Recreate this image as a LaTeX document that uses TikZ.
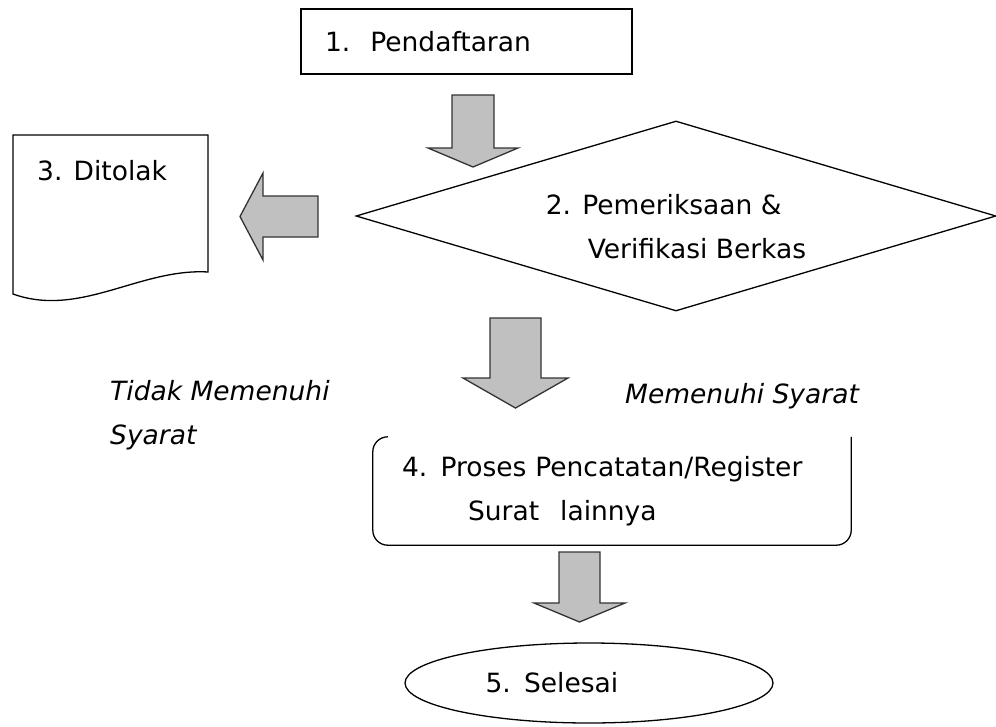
\documentclass[tikz,border=0pt]{standalone}
\usepackage{fontspec}
\setmainfont{DejaVu Sans}
\usepackage{tikz}
\usetikzlibrary{shapes.geometric}

\definecolor{ArrowGray}{HTML}{C0C0C0}
\newcommand{\diagramfont}{\fontsize{26.5pt}{44pt}\selectfont}

\tikzset{
  outline/.style={draw=black, line width=1.3pt},
  fatarrow/.style={draw=black!80, line width=1.3pt, fill=ArrowGray, line join=miter},
  caption/.style={inner sep=0pt, align=left},
}

\begin{document}
\begin{tikzpicture}[x=1pt, y=-1pt, font=\diagramfont]
  \useasboundingbox (0,0) rectangle (996,726);

  \node[outline, minimum width=331pt, minimum height=65pt, text width=283pt, inner xsep=24pt, align=left] (daftar) at (466.5,41.5) {1.\hspace{20pt}Pendaftaran};

  \node[outline, diamond, aspect=3.37, minimum width=640pt, minimum height=190pt, inner sep=0pt] (periksa) at (676,216) {};
  \node[caption] (periksatxt) at (676,227) {2. Pemeriksaan \&\\\hspace*{42pt}Verifikasi Berkas};

  \draw[outline] (13,135) -- (208,135) -- (208,272) .. controls (140,268) and (80,318) .. (13,294) -- cycle;
  \node[caption, anchor=west] (ditolak) at (37,171) {3. Ditolak};

  \node[minimum width=478pt, minimum height=108pt, text width=420pt, inner xsep=29pt, align=left] (catat) at (612,491) {4. Proses Pencatatan/Register\\\hspace*{66pt}Surat\hspace{21pt}lainnya};
  % top edge of the box is not shown
  \draw[outline, rounded corners=15pt] ([xshift=15pt]catat.north west) -- (catat.north west) -- (catat.south west) -- (catat.south east) -- (catat.north east);

  \node[outline, ellipse, minimum width=368pt, minimum height=80pt, text width=207pt, inner sep=0pt, align=left] (selesai) at (589,683) {5. Selesai};

  \node[caption, anchor=west, font=\diagramfont\itshape] (tidak) at (110,415) {Tidak Memenuhi\\Syarat};
  \node[caption, anchor=west, font=\diagramfont\itshape] (syarat) at (625,396) {Memenuhi Syarat};

  % block arrows
  \draw[fatarrow] (452,95) -- (494,95) -- (494,148) -- (518,148) -- (473,167) -- (428,148) -- (452,148) -- cycle;
  \draw[fatarrow] (318,196) -- (318,237) -- (263,237) -- (263,260) -- (240,216.5) -- (263,173) -- (263,196) -- cycle;
  \draw[fatarrow] (490,318) -- (541,318) -- (541,378) -- (568,378) -- (515.5,408) -- (463,378) -- (490,378) -- cycle;
  \draw[fatarrow] (559,552) -- (600,552) -- (600,603) -- (625,603) -- (579.5,622) -- (534,603) -- (559,603) -- cycle;
\end{tikzpicture}
\end{document}
